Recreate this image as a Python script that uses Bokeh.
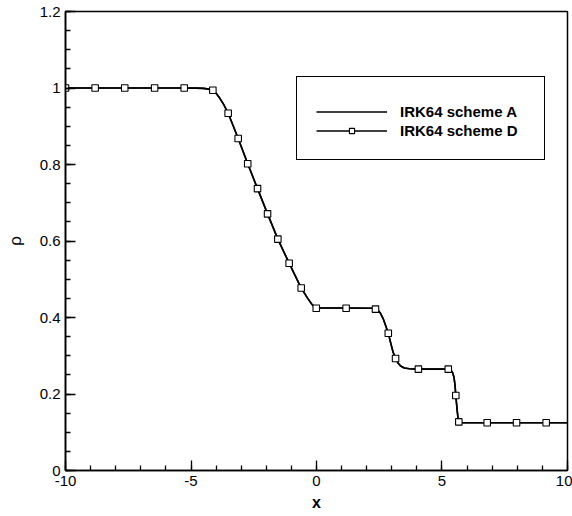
from bokeh.plotting import figure
from bokeh.models import Range1d, SingleIntervalTicker, Legend, LegendItem, CustomJSTickFormatter
from bokeh.embed import file_html
from bokeh.resources import INLINE

# ---- data ----
x_a = [-10, -5.3, -4.8, -4.5, -4.3, -4.15, -4.0, -3.85, -3.7, -3.52, -3.3, -3.12,
       -2.74, -2.35, -1.95, -1.54, -1.09, -0.61, -0.35, -0.2, -0.1, 0.0, 1.18, 2.2,
       2.35, 2.45, 2.55, 2.65, 2.75, 2.86, 2.95, 3.05, 3.15, 3.25, 3.35, 3.5, 3.7,
       4.06, 5.25, 5.35, 5.42, 5.48, 5.52, 5.55, 5.6, 5.64, 5.67, 5.75, 6.8, 10]
rho_a = [1.0, 1.0, 0.9998, 0.999, 0.997, 0.994, 0.986, 0.973, 0.957, 0.934, 0.898, 0.868,
         0.802, 0.737, 0.671, 0.605, 0.542, 0.477, 0.45, 0.436, 0.428, 0.425, 0.425, 0.424,
         0.422, 0.419, 0.411, 0.398, 0.38, 0.359, 0.335, 0.31, 0.293, 0.281, 0.273, 0.268, 0.266,
         0.265, 0.265, 0.262, 0.256, 0.243, 0.222, 0.196, 0.16, 0.136, 0.127, 0.125, 0.125, 0.125]

# scheme D coincides with scheme A; symbols drawn at these points
x_d_line = list(x_a)
rho_d_line = list(rho_a)
x_d = [-10, -8.82, -7.64, -6.45, -5.27, -4.13, -3.52, -3.12, -2.74, -2.35, -1.95, -1.54,
       -1.09, -0.61, -0.01, 1.18, 2.35, 2.86, 3.15, 4.06, 5.25, 5.55, 5.67, 6.8, 7.97, 9.15]
rho_d = [1.0, 1.0, 1.0, 1.0, 1.0, 0.994, 0.934, 0.868, 0.802, 0.737, 0.671, 0.605,
         0.542, 0.477, 0.424, 0.424, 0.422, 0.359, 0.293, 0.265, 0.265, 0.196, 0.127, 0.125, 0.125, 0.125]

x_ticks = [-10, -5, 0, 5, 10]
x_tick_labels = ["-10", "-5", "0", "5", "10"]
y_ticks = [0.0, 0.2, 0.4, 0.6, 0.8, 1.0, 1.2]
y_tick_labels = ["0", "0.2", "0.4", "0.6", "0.8", "1", "1.2"]
series_names = ["IRK64 scheme A", "IRK64 scheme D"]

FONT = "Liberation Sans"

LOOKUP = """
let best = 0; let d = Infinity;
for (let i = 0; i < tvals.length; i++) {
  const e = Math.abs(tvals[i] - tick);
  if (e < d) { d = e; best = i; }
}
return tlabs[best];
"""

p = figure(width=572, height=516, frame_width=502, frame_height=459,
           x_range=Range1d(-10, 10.000001), y_range=Range1d(0, 1.2000001),
           output_backend="svg", toolbar_location=None,
           min_border_left=65, min_border_right=5, min_border_top=11, min_border_bottom=46)
p.background_fill_color = "white"
p.border_fill_color = "white"
p.grid.visible = False
p.outline_line_color = "black"
p.outline_line_width = 1.5
p.outline_line_alpha = 1.0

la = p.line(x_a, rho_a, line_color="black", line_width=1.6)
ld = p.line(x_d_line, rho_d_line, line_color="black", line_width=1.6)
sd = p.scatter(x_d, rho_d, marker="square", size=6.5, fill_color="white",
               line_color="black", line_width=1.1)

for ax, ticks, labels, interval, nminor in [(p.xaxis[0], x_ticks, x_tick_labels, 5, 5),
                                            (p.yaxis[0], y_ticks, y_tick_labels, 0.2, 4)]:
    ax.ticker = SingleIntervalTicker(interval=interval, num_minor_ticks=nminor)
    ax.formatter = CustomJSTickFormatter(args=dict(tvals=ticks, tlabs=labels), code=LOOKUP)
    ax.major_tick_in = 10
    ax.major_tick_out = 0
    ax.minor_tick_in = 5
    ax.minor_tick_out = 0
    ax.axis_line_width = 1.6
    ax.axis_line_color = "black"
    ax.major_tick_line_width = 1.3
    ax.minor_tick_line_width = 1.3
    ax.major_tick_line_color = "black"
    ax.minor_tick_line_color = "black"
    ax.major_label_text_font = FONT
    ax.major_label_text_font_size = "15px"
    ax.major_label_text_color = "black"
    ax.major_label_standoff = 5
    ax.axis_label_text_font = FONT
    ax.axis_label_text_color = "black"

p.xaxis.axis_label = "x"
p.xaxis.axis_label_text_font_style = "bold"
p.xaxis.axis_label_text_font_size = "16px"
p.xaxis.axis_label_standoff = 5
p.yaxis.axis_label = "ρ"
p.yaxis.axis_label_text_font_style = "normal"
p.yaxis.axis_label_text_font_size = "17px"
p.yaxis.axis_label_standoff = 12

legend = Legend(items=[LegendItem(label=series_names[0], renderers=[la]),
                       LegendItem(label=series_names[1], renderers=[ld, sd])],
                location=(231, 310), padding=19, spacing=0,
                glyph_width=71, glyph_height=13, label_height=19, label_width=125,
                label_standoff=13, label_text_font=FONT, label_text_font_size="15px",
                label_text_font_style="bold", label_text_color="black",
                border_line_color="black", border_line_width=1.5, border_line_alpha=1.0,
                background_fill_color="white", background_fill_alpha=1.0,
                title=" ", title_text_font_size="4px", title_standoff=1,
                margin=0)
p.add_layout(legend, "center")

open("out.html", "w").write(file_html(p, INLINE))
